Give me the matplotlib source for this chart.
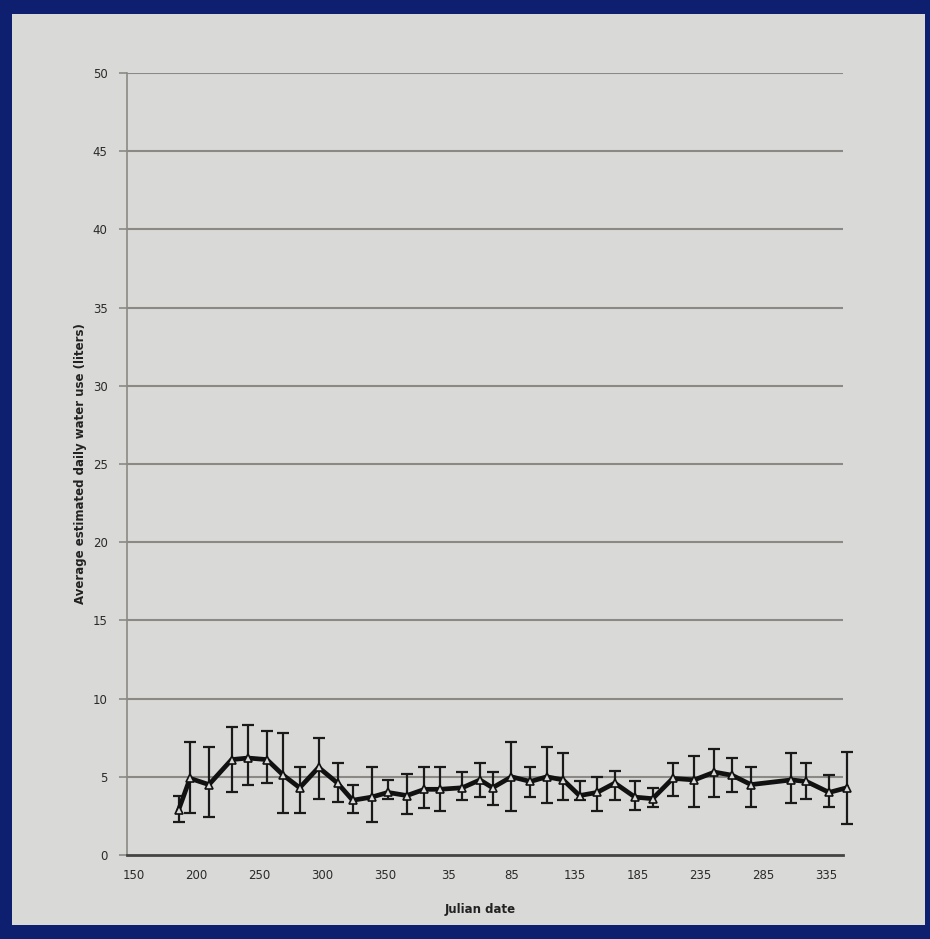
import matplotlib.pyplot as plt
from matplotlib.patches import Rectangle

# Julian day, continuous (days after 365 wrap to next year)
days = [186, 195, 210, 228, 241, 256, 269, 282, 297, 312, 324, 339, 352, 367, 381, 393, 411, 425, 435,
        450, 465, 478, 491, 504, 518, 532, 548, 562, 578, 595, 611, 625, 640, 672, 684, 702, 716]
mean_use = [2.9, 4.9, 4.5, 6.1, 6.2, 6.1, 5.1, 4.3, 5.6, 4.6, 3.5, 3.7, 4.0, 3.8, 4.2, 4.2, 4.3, 4.8, 4.3,
            5.0, 4.7, 5.0, 4.8, 3.8, 4.0, 4.6, 3.7, 3.6, 4.9, 4.8, 5.3, 5.1, 4.5, 4.8, 4.7, 4.0, 4.3]
upper = [3.8, 7.2, 6.9, 8.2, 8.3, 7.9, 7.8, 5.6, 7.5, 5.9, 4.5, 5.6, 4.8, 5.2, 5.6, 5.6, 5.3, 5.9, 5.3,
         7.2, 5.6, 6.9, 6.5, 4.7, 5.0, 5.4, 4.7, 4.3, 5.9, 6.3, 6.8, 6.2, 5.6, 6.5, 5.9, 5.1, 6.6]
lower = [2.1, 2.7, 2.4, 4.0, 4.5, 4.6, 2.7, 2.7, 3.6, 3.4, 2.7, 2.1, 3.6, 2.6, 3.0, 2.8, 3.5, 3.7, 3.2,
         2.8, 3.7, 3.3, 3.5, 3.5, 2.8, 3.5, 2.9, 3.1, 3.8, 3.1, 3.7, 4.0, 3.1, 3.3, 3.6, 3.1, 2.0]

xtick_pos = [150, 200, 250, 300, 350, 400, 450, 500, 550, 600, 650, 700]
xtick_labels = ['150', '200', '250', '300', '350', '35', '85', '135', '185', '235', '285', '335']
ytick_pos = list(range(0, 51, 5))

fig = plt.figure(figsize=(9.3, 9.39), dpi=100)
fig.patch.set_facecolor('#0d1f6e')
# the paper
paper = Rectangle((12 / 930, 14 / 939), 913 / 930, 911 / 939,
                  transform=fig.transFigure, facecolor='#d9d9d7',
                  edgecolor='none', zorder=-5)
fig.add_artist(paper)

ax = fig.add_axes([127 / 930, 84 / 939, 716 / 930, 782 / 939])
ax.set_zorder(5)
ax.set_facecolor('none')

for yv in ytick_pos[1:]:
    ax.axhline(yv, color='#8c8984', lw=1.5, zorder=1)

err_hi = [u - m for u, m in zip(upper, mean_use)]
err_lo = [m - l for m, l in zip(mean_use, lower)]
ax.errorbar(days, mean_use, yerr=[err_lo, err_hi], fmt='none', ecolor='#1a1a1a',
            elinewidth=1.6, capsize=4, capthick=1.6, zorder=3, clip_on=False)
ax.plot(days, mean_use, color='#111111', lw=3.4, zorder=4, clip_on=False)
ax.plot(days, mean_use, linestyle='none', marker='^', markersize=5.5,
        markerfacecolor='#d9d9d7', markeredgecolor='#111111', markeredgewidth=1.2,
        zorder=5, clip_on=False)

ax.set_xlim(145, 713)
ax.set_ylim(0, 50)
ax.set_xticks(xtick_pos)
ax.set_xticklabels(xtick_labels)
ax.set_yticks(ytick_pos)

for side in ['top', 'right']:
    ax.spines[side].set_visible(False)
ax.spines['left'].set_color('#8c8984')
ax.spines['left'].set_linewidth(1.2)
ax.spines['bottom'].set_color('#444444')
ax.spines['bottom'].set_linewidth(2)

ax.tick_params(axis='x', length=0, pad=10, labelsize=8.5, labelcolor='#2a2a2a')
ax.tick_params(axis='y', length=6, width=1.2, color='#8c8984', pad=8,
               labelsize=8.5, labelcolor='#2a2a2a')

ax.set_xlabel('Julian date', fontsize=8.5, fontweight='bold', color='#222222', labelpad=12)
ax.set_ylabel('Average estimated daily water use (liters)', fontsize=8.5,
              fontweight='bold', color='#222222', labelpad=12)
ax.xaxis.set_label_coords((480 - 127) / 716, -0.062)
ax.yaxis.set_label_coords((87 - 127) / 716, 0.5)

fig.savefig('out.png', dpi=100, facecolor=fig.get_facecolor())
